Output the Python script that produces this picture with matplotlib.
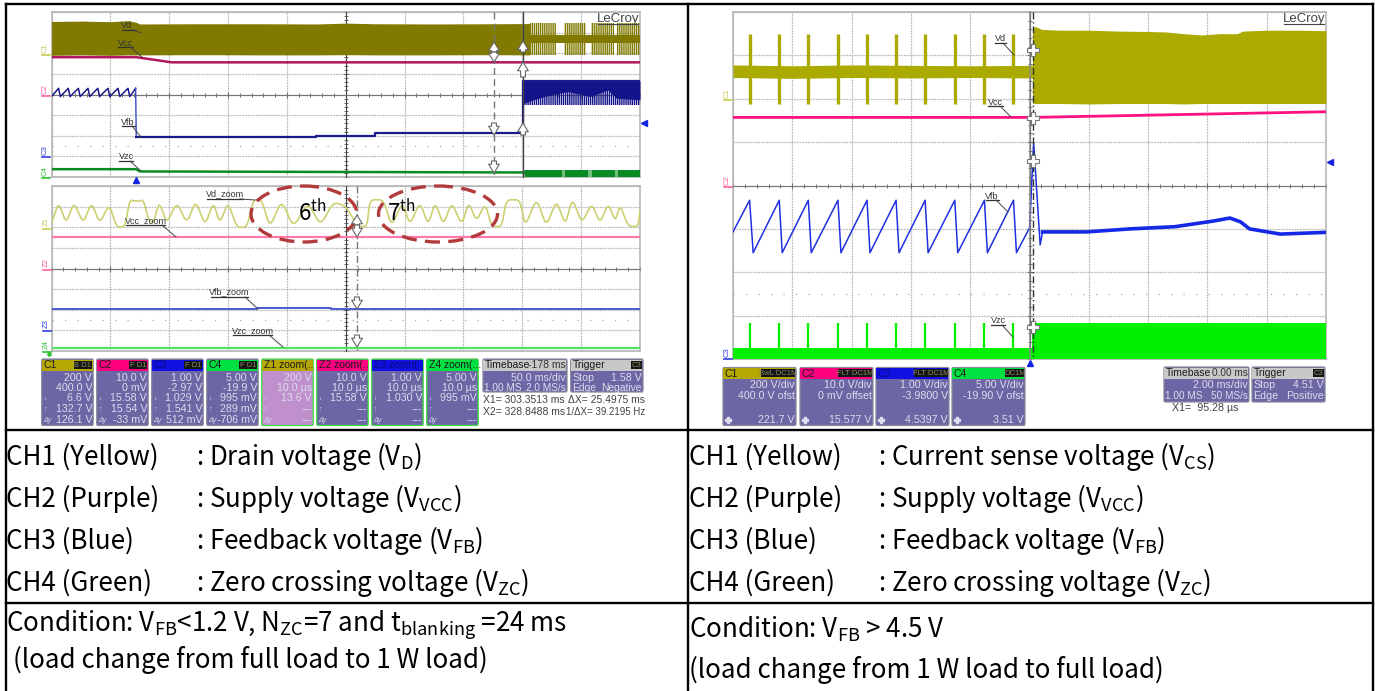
import matplotlib
matplotlib.use('Agg')
import matplotlib.pyplot as plt
from matplotlib.patches import Rectangle, Ellipse, FancyBboxPatch, PathPatch
from matplotlib.path import Path
from matplotlib.ticker import MultipleLocator

plt.rcParams['font.family'] = ['Liberation Sans', 'DejaVu Sans']
plt.rcParams['mathtext.fontset'] = 'custom'
plt.rcParams['mathtext.rm'] = 'Noto Sans CJK SC'
plt.rcParams['mathtext.default'] = 'rm'
plt.rcParams['hatch.linewidth'] = 1.0

# --- left scope, main traces (x in div 0-10, y in div 0-8)
l_c1_x = [0, .5, 1, 1.3, 1.44, 1.5, 2.5, 3.5, 4.5, 5, 5.5, 6.5, 7.5, 8.13]
l_c1_top = [7.54, 7.56, 7.53, 7.58, 7.50, 7.42, 7.43, 7.43, 7.42, 7.46, 7.43, 7.42, 7.43, 7.44]
l_c1_bot = [5.90, 5.92, 5.90, 5.92, 5.92, 5.92, 5.93, 5.92, 5.92, 5.93, 5.92, 5.92, 5.93, 5.92]
l_c1_burst_x0 = [8.13, 8.71, 9.16, 9.61]
l_c1_burst_x1 = [8.57, 9.08, 9.55, 10.0]
l_c1_burst_top = 7.45
l_c1_burst_bot = 5.92
l_c1_mid = [6.5, 6.88]

l_c2_x = [0, 1.44, 2.04, 10]
l_c2_y = [5.81, 5.81, 5.56, 5.56]

l_c3_x = [0, .12, .15, .285, .315, .457, .487, .62, .65, .787, .817, .96, .99, 1.13, 1.16,
          1.30, 1.33, 1.43, 1.44, 3.5, 3.5, 4.5, 4.5, 5.5, 5.5, 8.02, 8.02, 10]
l_c3_y = [3.9, 4.3, 3.9, 4.3, 3.9, 4.3, 3.9, 4.3, 3.9, 4.3, 3.9, 4.3, 3.9, 4.3, 3.9,
          4.3, 3.9, 4.3, 1.92, 1.92, 1.95, 1.95, 1.99, 1.99, 2.12, 2.12, 4.66, 4.66]
l_c3_band_x = [8.02, 8.18, 8.48, 8.78, 9.15, 9.45, 9.6, 10]
l_c3_band_solid = [3.57, 3.74, 3.98, 4.14, 3.90, 4.22, 3.82, 3.74]
l_c3_band_low = 3.49
l_c3_band_top = 4.66

l_c4_x = [0, 1.44, 1.5, 8.02]
l_c4_y = [.38, .38, .27, .22]
l_c4_band_x0 = [8.04, 8.72, 9.18, 9.63]
l_c4_band_x1 = [8.67, 9.12, 9.58, 10.0]
l_c4_band_top = .32

# --- left scope, zoom traces
z1_x = [0, .12, .25, .38, .54, .68, .82, .98, 1.11, 1.25, 1.33, 1.45, 1.56, 1.65, 1.73, 1.83, 1.96,
        2.13, 2.30, 2.45, 2.61, 2.75, 2.86, 3.0, 3.15, 3.32, 3.43, 3.57, 3.71, 3.91, 4.11, 4.36,
        4.57, 4.79, 4.99, 5.21, 5.36, 5.41, 5.64, 5.78, 5.96, 6.09, 6.26, 6.40, 6.52, 6.66, 6.80,
        6.97, 7.09, 7.22, 7.37, 7.48, 7.65, 7.73, 7.96, 8.05, 8.24, 8.41, 8.58, 8.73, 8.85, 9.01,
        9.18, 9.32, 9.46, 9.58, 9.66, 9.80, 9.97, 10.0]
z1_y = [6.2, 7.2, 6.2, 7.2, 6.2, 7.2, 6.2, 7.1, 6.0, 6.04, 7.33, 7.25, 7.33, 6.36, 6.2, 7.22, 6.2,
        7.2, 6.2, 7.28, 6.1, 7.2, 6.2, 7.2, 6.0, 6.0, 7.33, 7.33, 6.0, 7.3, 6.0, 7.2,
        6.1, 7.2, 7.05, 6.04, 6.04, 7.33, 7.33, 6.05, 7.22, 6.12, 7.22, 6.12, 7.2, 6.12, 7.2,
        6.12, 7.2, 6.3, 7.14, 6.04, 6.04, 7.33, 7.33, 6.05, 7.4, 6.05, 7.3, 6.12, 7.4, 6.2,
        7.15, 6.2, 7.15, 6.3, 7.07, 6.05, 6.04, 6.85]
z2_x = [0, 10]
z2_y = [5.55, 5.55]
z3_x = [0, 3.5, 3.5, 4.75, 4.75, 10]
z3_y = [2.04, 2.04, 2.07, 2.07, 2.04, 2.04]
z4_x = [0, 10]
z4_y = [.16, .16]

# --- right scope traces
r_spike_x = [.28, .78, 1.27, 1.77, 2.26, 2.75, 3.24, 3.74, 4.24, 4.73]
r_trough_x = [.34, .83, 1.32, 1.82, 2.31, 2.80, 3.29, 3.79, 4.29, 4.78]
r_c1_base_x = [0, 1, 2, 3, 4, 5.05]
r_c1_base_top = [6.78, 6.76, 6.78, 6.77, 6.76, 6.77]
r_c1_base_bot = [6.49, 6.47, 6.49, 6.48, 6.49, 6.48]
r_c1_spike_top = 7.5
r_c1_spike_bot = 5.89
r_c1_x = [5.05, 5.1, 5.2, 5.5, 6, 6.5, 7, 7.3, 7.6, 7.9, 8.2, 8.5, 8.6, 9, 9.5, 10]
r_c1_top = [7.62, 7.67, 7.6, 7.58, 7.58, 7.56, 7.55, 7.54, 7.50, 7.47, 7.50, 7.50, 7.56, 7.58, 7.58, 7.57]
r_c1_bot = [5.90, 5.89, 5.89, 5.89, 5.88, 5.89, 5.89, 5.89, 5.88, 5.89, 5.89, 5.89, 5.89, 5.89, 5.89, 5.89]

r_c2_x = [0, 5.05, 10]
r_c2_y = [5.57, 5.57, 5.70]

r_c3_peak = 3.66
r_c3_trough = 2.45
r_c3_start = 2.93
r_c3_rise_end_x = [5.0, 5.07, 5.18, 5.22]
r_c3_rise_end_y = [3.02, 4.98, 2.63, 2.93]
r_c3_x = [5.22, 5.96, 6.70, 7.45, 8.1, 8.38, 8.56, 8.71, 9.23, 10]
r_c3_y = [2.93, 2.93, 3.0, 3.05, 3.18, 3.25, 3.16, 3.0, 2.88, 2.92]

r_c4_base_x = [0, 5.05]
r_c4_base_top = [.25, .25]
r_c4_spike_top = .83
r_c4_x = [5.05, 10]
r_c4_top = [.83, .83]

# --- readout boxes
l_names = ['C1', 'C2', 'C3', 'C4', 'Z1 zoom(..', 'Z2 zoom(..', 'Z3 zoom(..', 'Z4 zoom(...']
l_heads = ['#b5a800', '#ff007f', '#1010e0', '#00e040', '#b5a800', '#ff007f', '#1010e0', '#00e040']
l_badges = ['B D1', 'F D1', 'F D1', 'F D1', '', '', '', '']
l_rows = [
    ['200 V', '400.0 V', '6.6 V', '132.7 V', '126.1 V'],
    ['10.0 V', '0 mV', '15.58 V', '15.54 V', '-33 mV'],
    ['1.00 V', '-2.97 V', '1.029 V', '1.541 V', '512 mV'],
    ['5.00 V', '-19.9 V', '995 mV', '289 mV', '-706 mV'],
    ['200 V', '10.0 µs', '13.6 V', '---', '---'],
    ['10.0 V', '10.0 µs', '15.58 V', '---', '---'],
    ['1.00 V', '10.0 µs', '1.030 V', '---', '---'],
    ['5.00 V', '10.0 µs', '995 mV', '---', '---'],
]
r_names = ['C1', 'C2', 'C3', 'C4']
r_heads = ['#b5a800', '#ff007f', '#1010e0', '#00e040']
r_badges = ['BwL DC1M', 'FLT DC1M', 'FLT DC1M', 'DC1M']
r_rows = [
    ['200 V/div', '400.0 V ofst', '221.7 V'],
    ['10.0 V/div', '0 mV offset', '15.577 V'],
    ['1.00 V/div', '-3.9800 V', '4.5397 V'],
    ['5.00 V/div', '-19.90 V ofst', '3.51 V'],
]

# --- table text
left_names = ['CH1 (Yellow)', 'CH2 (Purple)', 'CH3 (Blue)', 'CH4 (Green)']
left_desc = [': Drain voltage (V$_{D}$)', ': Supply voltage (V$_{VCC}$)',
             ': Feedback voltage (V$_{FB}$)', ': Zero crossing voltage (V$_{ZC}$)']
right_desc = [': Current sense voltage (V$_{CS}$)', ': Supply voltage (V$_{VCC}$)',
              ': Feedback voltage (V$_{FB}$)', ': Zero crossing voltage (V$_{ZC}$)']

W, H = 1375, 691
fig = plt.figure(figsize=(W / 100, H / 100), dpi=100, facecolor='white')


def scope(x0, y0, x1, y1, ny=8):
    # axes placed by pixel box, grid in scope divisions
    ax = fig.add_axes([x0 / W, 1 - y1 / H, (x1 - x0) / W, (y1 - y0) / H])
    ax.set_xlim(0, 10)
    ax.set_ylim(0, ny)
    ax.set_xticks(range(11))
    ax.set_yticks(range(ny + 1))
    ax.grid(True, color='#bcbcbc', lw=0.9, ls=(0, (1.5, 0.7)))
    ax.set_axisbelow(True)
    ax.xaxis.set_minor_locator(MultipleLocator(.2))
    ax.yaxis.set_minor_locator(MultipleLocator(.2))
    ax.spines['bottom'].set_position(('data', ny / 2))
    ax.spines['left'].set_position(('data', 5))
    ax.spines['top'].set_visible(False)
    ax.spines['right'].set_visible(False)
    ax.spines['bottom'].set_color('#777777')
    ax.spines['left'].set_color('#444444')
    ax.spines['bottom'].set_linewidth(.8)
    ax.spines['left'].set_linewidth(.8)
    ax.tick_params(which='both', direction='inout', length=3.5, width=.6, color='#555555',
                   labelbottom=False, labelleft=False)
    ax.tick_params(which='major', length=5)
    ax.axhline(1.5, color='#aaaaaa', lw=.9, ls=(0, (1, 9)))
    for v in (0, ny):
        ax.axhline(v, color='#b4b4b4', lw=1.2, clip_on=False, zorder=1)
    for v in (0, 10):
        ax.axvline(v, color='#b4b4b4', lw=1.1, clip_on=False, zorder=1)
    return ax


def rounded_trace(ax, xs, ys, frac=.3, **kw):
    # same points, corners drawn as short curves like the scope's persistence
    verts = [(xs[0], ys[0])]
    codes = [Path.MOVETO]
    for i in range(1, len(xs) - 1):
        px, py = xs[i], ys[i]
        verts.append((px - frac * (px - xs[i - 1]), py - frac * (py - ys[i - 1])))
        codes.append(Path.LINETO)
        verts.append((px, py))
        codes.append(Path.CURVE3)
        verts.append((px + frac * (xs[i + 1] - px), py + frac * (ys[i + 1] - py)))
        codes.append(Path.CURVE3)
    verts.append((xs[-1], ys[-1]))
    codes.append(Path.LINETO)
    ax.add_patch(PathPatch(Path(verts, codes), fill=False, **kw))


# left main traces
ax = scope(51.5, 12, 640, 177)
olive = '#807a00'
ax.fill_between(l_c1_x, l_c1_bot, l_c1_top, color=olive, lw=0, zorder=3)
ax.fill_between([8.13, 10], l_c1_mid[0], l_c1_mid[1], color=olive, lw=0, zorder=3)
for a, b in zip(l_c1_burst_x0, l_c1_burst_x1):
    ax.fill_between([a, b], l_c1_burst_bot, l_c1_burst_top, facecolor='none', edgecolor=olive,
                    hatch='||||||||', lw=0, zorder=3)
ax.plot(l_c2_x, l_c2_y, color='#b0155f', lw=1.8, zorder=4)
ax.plot(l_c3_x[:18], l_c3_y[:18], color='#1a1a8c', lw=1.1, zorder=4)
ax.plot(l_c3_x[17:19], l_c3_y[17:19], color='#3a46c8', lw=1, zorder=4)
ax.plot(l_c3_x[18:], l_c3_y[18:], color='#1a1a8c', lw=1.6, zorder=4)
ax.fill_between(l_c3_band_x, l_c3_band_low, l_c3_band_top, facecolor='none', edgecolor='#14148a',
                hatch='||||||||', lw=0, zorder=3)
ax.fill_between(l_c3_band_x, l_c3_band_solid, l_c3_band_top, color='#14148a', lw=0, zorder=3)
ax.plot(l_c4_x, l_c4_y, color='#0a8a25', lw=1.8, zorder=4)
ax.fill_between([8.02, 10], 0, l_c4_band_top, color='#6fbf7f', lw=0, zorder=3)
for a, b in zip(l_c4_band_x0, l_c4_band_x1):
    ax.fill_between([a, b], 0, l_c4_band_top, color='#0a8a25', lw=0, zorder=3)

# left zoom traces
ax = scope(51.5, 186, 640, 351)
rounded_trace(ax, z1_x, z1_y, color='#cdd070', lw=1.2, zorder=3)
ax.plot(z2_x, z2_y, color='#ff78ae', lw=1.6, zorder=3)
ax.plot(z3_x, z3_y, color='#4a5ad0', lw=1.4, zorder=3)
ax.plot(z4_x, z4_y, color='#55e065', lw=1.6, zorder=3)

# right traces
ax = scope(733, 12, 1326, 359)
ax.fill_between(r_c1_base_x, r_c1_base_bot, r_c1_base_top, color='#aaaa00', lw=0, zorder=3)
ax.vlines(r_spike_x, r_c1_spike_bot, r_c1_spike_top, color='#aaaa00', lw=2.4, zorder=3)
ax.fill_between(r_c1_x, r_c1_bot, r_c1_top, color='#aaaa00', lw=0, zorder=3)
ax.plot(r_c2_x, r_c2_y, color='#ff1080', lw=2, zorder=4)
saw_x = [0]
saw_y = [r_c3_start]
for s, t in zip(r_spike_x, r_trough_x):
    saw_x += [s, t]
    saw_y += [r_c3_peak, r_c3_trough]
ax.plot(saw_x + r_c3_rise_end_x, saw_y + r_c3_rise_end_y, color='#2030e0', lw=1.1, zorder=4)
ax.plot(r_c3_x, r_c3_y, color='#1528e6', lw=2.6, zorder=4)
ax.fill_between(r_c4_base_x, 0, r_c4_base_top, color='#00f000', lw=0, zorder=3)
ax.vlines(r_spike_x, 0, r_c4_spike_top, color='#00f000', lw=1.6, zorder=3)
ax.fill_between(r_c4_x, 0, r_c4_top, color='#00f000', lw=0, zorder=3)

# overlay in pixel coordinates: table, labels, cursors, readouts
ov = fig.add_axes([0, 0, 1, 1], zorder=10)
ov.set_xlim(0, W)
ov.set_ylim(H, 0)
ov.axis('off')
ov.patch.set_alpha(0)


def label(txt, tx, ty, ux0, ux1, uy, lx, ly):
    ov.text(tx, ty, txt, ha='center', va='center', fontsize=6.5, color='#333333')
    ov.plot([ux0, ux1], [uy, uy], color='#333333', lw=.9)
    ov.plot([ux1 - 3, lx], [uy, ly], color='#444444', lw=.7)


label('Vd', 127, 25, 122, 135, 29.5, 141, 33)
label('Vcc', 125, 43, 118, 133, 47, 142, 57)
label('Vfb', 128, 122, 122, 135, 126, 141, 137)
label('Vzc', 126, 156, 119, 133, 161, 141, 171)
label('Vd_zoom', 225, 194, 207, 243, 199, 255, 200)
label('Vcc_zoom', 146, 221, 126, 165, 225, 176, 237)
label('Vfb_zoom', 229, 292, 211, 248, 297, 258, 309)
label('Vzc_zoom', 253, 331, 233, 272, 335, 283, 347)
label('Vd', 1001, 38, 995, 1006, 43, 1014, 55)
label('Vcc', 995, 102, 988, 1003, 106, 1011, 117)
label('Vfb', 992, 196, 986, 999, 200, 1008, 212)
label('Vzc', 998, 320, 991, 1005, 325, 1013, 337)

for cx, w in ((304, 106), (438, 119)):
    ov.add_patch(Ellipse((cx, 214), w, 56, fill=False, ec='#b23a3a', lw=2.4, ls=(0, (4.5, 2.5))))
ov.text(298, 212, '6$^{th}$', fontsize=16, ha='left', va='center', family='Noto Sans CJK SC', color='black')
ov.text(387, 212, '7$^{th}$', fontsize=16, ha='left', va='center', family='Noto Sans CJK SC', color='black')

ov.text(639, 19, 'LeCroy', ha='right', va='center', fontsize=9.5, color='#444444')
ov.plot([598, 638], [24, 24], color='#444444', lw=.8)
ov.text(1325, 19, 'LeCroy', ha='right', va='center', fontsize=9.5, color='#444444')
ov.plot([1284, 1324], [24, 24], color='#444444', lw=.8)

for txt, x, y, c in (('C1', 45, 48, '#c8c850'), ('C2', 45, 89, '#ff60a0'), ('C3', 45, 150, '#3040e0'),
                     ('C4', 45, 171, '#30c030'), ('Z1', 46, 222, '#c8c850'), ('Z2', 46, 263, '#ff60a0'),
                     ('Z3', 46, 324, '#3040e0'), ('Z4', 46, 345, '#30c030'), ('C1', 727, 93, '#c8c850'),
                     ('C2', 727, 180, '#ff60a0'), ('C3', 727, 352, '#3040e0')):
    ov.text(x, y, txt, rotation=90, ha='center', va='center', fontsize=5.5, color=c)
    ov.plot([x - 3, x + 5], [y + 7, y + 7], color=c, lw=1.2)

ov.plot([136], [180], marker='^', ms=4.5, color='#1525e0', ls='')
ov.plot([644], [123], marker='<', ms=4.5, color='#1525e0', ls='')
ov.plot([1030], [363], marker='^', ms=4.5, color='#1525e0', ls='')
ov.plot([1330], [162], marker='<', ms=4.5, color='#1525e0', ls='')
ov.plot([49], [354], marker='D', ms=2, color='#30c030', ls='')


def arrow(x, y0, y1):
    ov.annotate('', xy=(x, y1), xytext=(x, y0),
                arrowprops=dict(arrowstyle='simple,head_width=.55,head_length=.45,tail_width=.25',
                                fc='white', ec='#666666', lw=.8, mutation_scale=14,
                                shrinkA=0, shrinkB=0))


ov.plot([494, 494], [12, 177], color='#777777', lw=1, ls=(0, (5, 3)))
ov.plot([523, 523], [12, 177], color='#444444', lw=1)
for y0, y1 in ((52, 42), (52, 62), (123, 135), (161, 173)):
    arrow(494, y0, y1)
for y0, y1 in ((52, 41), (77, 62), (135, 123)):
    arrow(523, y0, y1)
ov.plot([357, 357], [186, 351], color='#777777', lw=1, ls=(0, (5, 2, 1, 2)))
for y0, y1 in ((225, 215), (225, 237), (297, 309), (335, 347)):
    arrow(357, y0, y1)
ov.plot([1030, 1030], [12, 359], color='#8a8a8a', lw=1.1)
ov.plot([1033, 1033], [12, 359], color='#333333', lw=1, ls=(0, (5, 2, 1, 2)))
ov.plot([1033] * 4, [50, 118, 161, 327], ls='', marker='P', ms=9, mfc='white', mec='#777777', mew=.8)

ROW_FS = 7.7


def readout(x0, y0, x1, y1, name, head, badge, rows, row_y, body='#6c66a5', border=None, head_h=11):
    ec = border if border else '#8a8a9a'
    ov.add_patch(FancyBboxPatch((x0, y0), x1 - x0, y1 - y0, boxstyle='round,pad=0,rounding_size=1.5',
                                fc=body, ec=ec, lw=.9))
    ov.add_patch(Rectangle((x0 + .5, y0 + .5), x1 - x0 - 1, head_h, fc=head, ec='none'))
    name_c = '#1a1a1a' if head != '#1010e0' else '#0a0a80'
    ov.text(x0 + 2, y0 + 6, name, ha='left', va='center', fontsize=7.5, color=name_c)
    if badge:
        bw = len(badge) * 3.9 + 3
        ov.add_patch(Rectangle((x1 - bw - 1, y0 + 1.5), bw, head_h - 3, fc='#161616', ec='none'))
        ov.text(x1 - bw / 2 - 1, y0 + 6, badge, ha='center', va='center', fontsize=5.5, color='#8a8a60')
    for txt, y in zip(rows, row_y):
        ov.text(x1 - 1, y, txt, ha='right', va='center', fontsize=ROW_FS, color='#dcdcec')


row_y = [378, 388, 398, 409, 420]
for i in range(8):
    x0 = 41.7 + i * 55 if i < 6 else 371.7 + (i - 6) * 55
    readout(x0, 359, x0 + 51.5, 425.5, l_names[i], l_heads[i], l_badges[i], l_rows[i], row_y,
            body='#c090cc' if i == 4 else '#6c66a5', border='#40e040' if i >= 4 else None)
    for s, y in zip(('↓', '↑', 'Δy'), row_y[2:]):
        ov.text(x0 + 1.5, y, s, ha='left', va='center', fontsize=5, color='#dcdcec', style='italic')

readout(483, 359, 567, 392, 'Timebase', '#c8c8c8', '', [], [])
ov.text(566, 365, '-178 ms', ha='right', va='center', fontsize=7.5, color='#333333')
ov.text(566, 378, '50.0 ms/div', ha='right', va='center', fontsize=ROW_FS, color='#dcdcec')
ov.text(484, 388, '1.00 MS', ha='left', va='center', fontsize=7.2, color='#dcdcec')
ov.text(566, 388, '2.0 MS/s', ha='right', va='center', fontsize=7.2, color='#dcdcec')
readout(570.7, 359, 643, 392, 'Trigger', '#c8c8c8', 'C3', [], [])
ov.text(572, 378, 'Stop', ha='left', va='center', fontsize=ROW_FS, color='#dcdcec')
ov.text(642, 378, '1.58 V', ha='right', va='center', fontsize=ROW_FS, color='#dcdcec')
ov.text(572, 388, 'Edge', ha='left', va='center', fontsize=7.4, color='#dcdcec')
ov.text(642, 388, 'Negative', ha='right', va='center', fontsize=7.4, color='#dcdcec')
ov.text(483, 400, 'X1= 303.3513 ms', ha='left', va='center', fontsize=7.5, color='#444444')
ov.text(483, 412, 'X2= 328.8488 ms', ha='left', va='center', fontsize=7.5, color='#444444')
ov.text(645, 400, 'ΔX= 25.4975 ms', ha='right', va='center', fontsize=7.5, color='#444444')
ov.text(645, 412, '1/ΔX= 39.2195 Hz', ha='right', va='center', fontsize=7, color='#444444')

for i, x0 in enumerate((723, 800, 876, 952)):
    readout(x0, 367.5, x0 + 73, 425.5, r_names[i], r_heads[i], r_badges[i], r_rows[i], [385, 396, 420])
    ov.plot([x0 + 5], [420], marker='P', ms=5, color='#dcdcec', ls='')

readout(1164, 367, 1249, 402, 'Timebase', '#c8c8c8', '', [], [])
ov.text(1248, 373, '0.00 ms', ha='right', va='center', fontsize=7.2, color='#333333')
ov.text(1248, 385, '2.00 ms/div', ha='right', va='center', fontsize=ROW_FS, color='#dcdcec')
ov.text(1165, 396, '1.00 MS', ha='left', va='center', fontsize=7.2, color='#dcdcec')
ov.text(1248, 396, '50 MS/s', ha='right', va='center', fontsize=7.2, color='#dcdcec')
readout(1252, 367, 1325, 402, 'Trigger', '#c8c8c8', 'C3', [], [])
ov.text(1253, 385, 'Stop', ha='left', va='center', fontsize=ROW_FS, color='#dcdcec')
ov.text(1324, 385, '4.51 V', ha='right', va='center', fontsize=ROW_FS, color='#dcdcec')
ov.text(1253, 396, 'Edge', ha='left', va='center', fontsize=ROW_FS, color='#dcdcec')
ov.text(1324, 396, 'Positive', ha='right', va='center', fontsize=ROW_FS, color='#dcdcec')
ov.text(1172, 408, 'X1=  95.28 µs', ha='left', va='center', fontsize=7.7, color='#444444')

# table frame
for xs, ys in (([6, 1373], [4, 4]), ([6, 1373], [430, 430]), ([6, 1373], [602.5, 602.5]),
               ([6, 6], [4, H]), ([688.5, 688.5], [4, H]), ([1373, 1373], [4, H])):
    ov.plot(xs, ys, color='black', lw=1.7, solid_capstyle='projecting')

# table text
cjk = 'Noto Sans CJK SC'
TFS = 18.7
base_y = [465, 507, 549, 591]
for name, ld, rd, y in zip(left_names, left_desc, right_desc, base_y):
    ov.text(6.5, y, name, fontsize=TFS, family=cjk, va='baseline', color='black')
    ov.text(196, y, ld, fontsize=TFS, family=cjk, va='baseline', color='black')
    ov.text(689.5, y, name, fontsize=TFS, family=cjk, va='baseline', color='black')
    ov.text(878, y, rd, fontsize=TFS, family=cjk, va='baseline', color='black')
ov.text(6.5, 632, 'Condition: V$_{FB}$<1.2 V, N$_{ZC}$=7 and t$_{blanking}$ =24 ms', fontsize=TFS,
        family=cjk, va='baseline', color='black')
ov.text(13, 668, '(load change from full load to 1 W load)', fontsize=TFS, family=cjk, va='baseline', color='black')
ov.text(689.5, 637, 'Condition: V$_{FB}$ > 4.5 V', fontsize=TFS, family=cjk, va='baseline', color='black')
ov.text(689.5, 678, '(load change from 1 W load to full load)', fontsize=TFS, family=cjk, va='baseline', color='black')

fig.savefig('out.png', dpi=100)
